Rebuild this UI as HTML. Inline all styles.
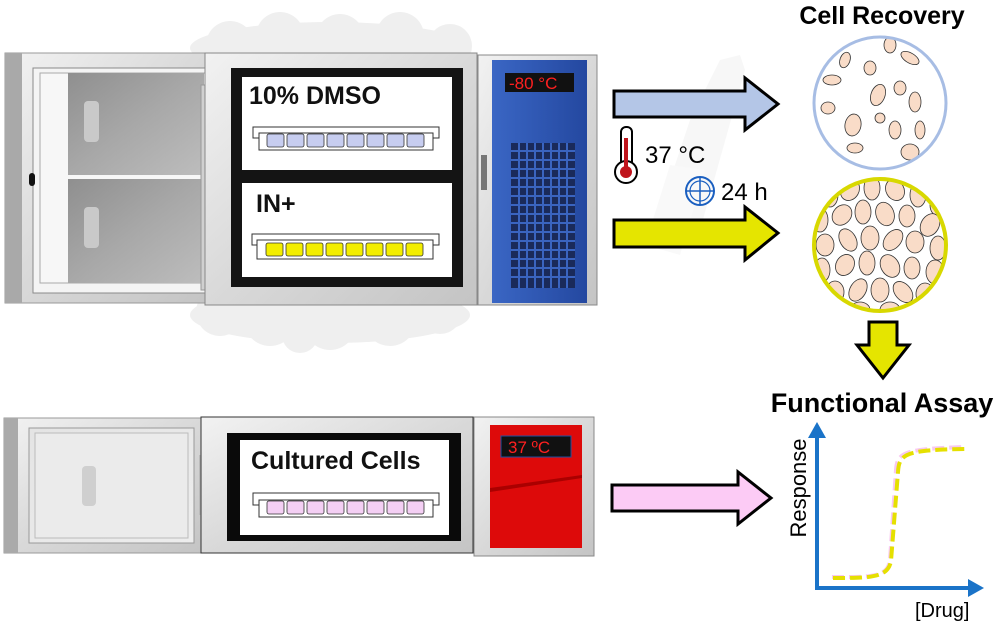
<!DOCTYPE html>
<html><head><meta charset="utf-8"><style>
html,body{margin:0;padding:0;background:#fff}
svg{display:block}
text{font-family:"Liberation Sans",sans-serif}
</style></head><body>
<svg width="1000" height="624" viewBox="0 0 1000 624" xmlns="http://www.w3.org/2000/svg">
<defs>
<linearGradient id="metal" x1="0" y1="0" x2="1" y2="1">
<stop offset="0" stop-color="#f2f2f2"/><stop offset="0.5" stop-color="#d9d9d9"/><stop offset="1" stop-color="#c4c4c4"/></linearGradient>
<linearGradient id="glass" x1="0" y1="0" x2="1" y2="1">
<stop offset="0" stop-color="#8f8f8f"/><stop offset="0.5" stop-color="#a8a8a8"/><stop offset="1" stop-color="#bdbdbd"/></linearGradient>
<linearGradient id="glass2" x1="0" y1="0" x2="1" y2="1">
<stop offset="0" stop-color="#e4e4e4"/><stop offset="1" stop-color="#ededed"/></linearGradient>
<linearGradient id="blue" x1="0" y1="0" x2="1" y2="0">
<stop offset="0" stop-color="#3a66c4"/><stop offset="1" stop-color="#2448a0"/></linearGradient>
<clipPath id="c1"><circle cx="880" cy="103" r="66"/></clipPath>
<clipPath id="c2"><circle cx="880" cy="245" r="66"/></clipPath>
</defs>

<!-- cloud -->
<g fill="#efefef">
<ellipse cx="330" cy="48" rx="140" ry="26"/>
<circle cx="230" cy="45" r="24"/><circle cx="280" cy="36" r="24"/><circle cx="340" cy="38" r="24"/><circle cx="400" cy="36" r="24"/><circle cx="450" cy="46" r="22"/>
<ellipse cx="330" cy="315" rx="140" ry="28"/>
<circle cx="220" cy="312" r="24"/><circle cx="270" cy="320" r="26"/><circle cx="330" cy="324" r="26"/><circle cx="390" cy="320" r="26"/><circle cx="440" cy="312" r="22"/><circle cx="300" cy="335" r="18"/>
</g>

<!-- TOP FREEZER -->
<rect x="5" y="53" width="202" height="250" fill="url(#metal)" stroke="#999"/>
<rect x="5" y="53" width="17" height="250" fill="#a9a9a9"/>
<rect x="33" y="68" width="172" height="225" fill="#f4f4f4" stroke="#8a8a8a"/>
<rect x="40" y="73" width="165" height="210" fill="#f7f7f7" stroke="#aaa"/>
<rect x="68" y="73" width="136" height="102" fill="url(#glass)"/>
<rect x="68" y="179" width="136" height="104" fill="url(#glass)"/>
<rect x="84" y="101" width="15" height="41" rx="4" fill="#c9c9c9"/>
<rect x="84" y="207" width="15" height="41" rx="4" fill="#c9c9c9"/>
<rect x="29" y="173" width="6" height="13" rx="3" fill="#111"/>
<rect x="201" y="85" width="8" height="205" fill="#d0d0d0" stroke="#999"/>
<rect x="205" y="53" width="272" height="252" fill="url(#metal)" stroke="#888"/>
<rect x="231" y="68" width="232" height="219" fill="#141414"/>
<rect x="242" y="77" width="210" height="93" fill="#fff"/>
<rect x="242" y="183" width="210" height="94" fill="#fff"/>
<text x="249" y="104" font-size="25" font-weight="bold" fill="#111">10% DMSO</text>
<text x="256" y="212" font-size="25" font-weight="bold" fill="#111">IN+</text>
<rect x="253" y="127" width="186" height="11" fill="#fff" stroke="#333"/>
<rect x="259" y="133" width="174" height="17" fill="#fff" stroke="#333"/>
<g fill="#c7cdf0" stroke="#333" stroke-width="0.8">
<rect x="267" y="134" width="17" height="13" rx="2"/><rect x="287" y="134" width="17" height="13" rx="2"/><rect x="307" y="134" width="17" height="13" rx="2"/><rect x="327" y="134" width="17" height="13" rx="2"/><rect x="347" y="134" width="17" height="13" rx="2"/><rect x="367" y="134" width="17" height="13" rx="2"/><rect x="387" y="134" width="17" height="13" rx="2"/><rect x="407" y="134" width="17" height="13" rx="2"/></g>
<rect x="252" y="234" width="187" height="11" fill="#fff" stroke="#333"/>
<rect x="257" y="240" width="176" height="19" fill="#fff" stroke="#333"/>
<g fill="#f3ee00" stroke="#333" stroke-width="0.8">
<rect x="266" y="243" width="17" height="13" rx="2"/><rect x="286" y="243" width="17" height="13" rx="2"/><rect x="306" y="243" width="17" height="13" rx="2"/><rect x="326" y="243" width="17" height="13" rx="2"/><rect x="346" y="243" width="17" height="13" rx="2"/><rect x="366" y="243" width="17" height="13" rx="2"/><rect x="386" y="243" width="17" height="13" rx="2"/><rect x="406" y="243" width="17" height="13" rx="2"/></g>
<rect x="478" y="55" width="119" height="250" fill="url(#metal)" stroke="#888"/>
<rect x="481" y="155" width="6" height="35" fill="#777"/>
<rect x="492" y="60" width="95" height="243" fill="url(#blue)"/>
<rect x="505" y="73" width="69" height="19" fill="#111"/>
<text x="509" y="89" font-size="17" fill="#ff2020">-80 °C</text>
<rect x="511" y="143" width="64" height="145" fill="#1a2a5a"/>
<g stroke="#3a64c0" stroke-width="2">
<line x1="519" y1="143" x2="519" y2="288"/><line x1="527" y1="143" x2="527" y2="288"/><line x1="535" y1="143" x2="535" y2="288"/><line x1="543" y1="143" x2="543" y2="288"/><line x1="551" y1="143" x2="551" y2="288"/><line x1="559" y1="143" x2="559" y2="288"/><line x1="567" y1="143" x2="567" y2="288"/>
<line x1="511" y1="151" x2="575" y2="151"/><line x1="511" y1="160" x2="575" y2="160"/><line x1="511" y1="169" x2="575" y2="169"/><line x1="511" y1="178" x2="575" y2="178"/><line x1="511" y1="187" x2="575" y2="187"/><line x1="511" y1="196" x2="575" y2="196"/><line x1="511" y1="205" x2="575" y2="205"/><line x1="511" y1="214" x2="575" y2="214"/><line x1="511" y1="223" x2="575" y2="223"/><line x1="511" y1="232" x2="575" y2="232"/><line x1="511" y1="241" x2="575" y2="241"/><line x1="511" y1="250" x2="575" y2="250"/><line x1="511" y1="259" x2="575" y2="259"/><line x1="511" y1="268" x2="575" y2="268"/><line x1="511" y1="277" x2="575" y2="277"/>
</g>

<!-- BOTTOM FREEZER -->
<rect x="4" y="418" width="198" height="135" fill="url(#metal)" stroke="#999"/>
<rect x="4" y="418" width="14" height="135" fill="#aaa"/>
<rect x="29" y="428" width="165" height="115" fill="url(#glass2)" stroke="#999"/>
<rect x="35" y="433" width="153" height="105" fill="#ebebeb" stroke="#bbb"/>
<rect x="82" y="466" width="14" height="40" rx="4" fill="#cfcfcf"/>
<rect x="199" y="455" width="6" height="60" fill="#bbb"/>
<rect x="201" y="417" width="272" height="136" fill="url(#metal)" stroke="#333"/>
<rect x="227" y="433" width="234" height="108" fill="#0a0a0a"/>
<rect x="240" y="440" width="209" height="95" fill="#fff"/>
<text x="251" y="469" font-size="25" font-weight="bold" fill="#111">Cultured Cells</text>
<rect x="253" y="493" width="186" height="12" fill="#fff" stroke="#333"/>
<rect x="259" y="500" width="174" height="17" fill="#fff" stroke="#333"/>
<g fill="#f4cff4" stroke="#333" stroke-width="0.8">
<rect x="267" y="501" width="17" height="13" rx="2"/><rect x="287" y="501" width="17" height="13" rx="2"/><rect x="307" y="501" width="17" height="13" rx="2"/><rect x="327" y="501" width="17" height="13" rx="2"/><rect x="347" y="501" width="17" height="13" rx="2"/><rect x="367" y="501" width="17" height="13" rx="2"/><rect x="387" y="501" width="17" height="13" rx="2"/><rect x="407" y="501" width="17" height="13" rx="2"/></g>
<rect x="474" y="417" width="120" height="139" fill="url(#metal)" stroke="#888"/>
<rect x="490" y="425" width="92" height="123" fill="#dd0a0a"/>
<polygon points="490,488 582,475 582,478 490,492" fill="#a00"/>
<rect x="501" y="436" width="70" height="21" fill="#111" stroke="#2050a0"/>
<text x="508" y="453" font-size="17" fill="#ff2020">37 ºC</text>

<!-- pipette ghost -->
<g opacity="0.15">
<polygon points="720,60 740,55 745,70 700,230 670,250 650,240 690,120" fill="#ccc"/>
<polygon points="670,165 705,170 680,255 645,245" fill="#ddd"/>
</g>

<!-- arrows -->
<polygon points="614,91 745,91 745,78 778,104 745,130 745,117 614,117" fill="#b4c6e7" stroke="#000" stroke-width="3"/>
<polygon points="614,220 745,220 745,207 778,233 745,260 745,247 614,247" fill="#e5e500" stroke="#000" stroke-width="3"/>
<polygon points="612,485 738,485 738,472 771,498 738,524 738,511 612,511" fill="#fccbf5" stroke="#000" stroke-width="3"/>
<polygon points="869,322 897,322 897,345 909,345 883,378 857,345 869,345" fill="#e5e500" stroke="#000" stroke-width="3"/>

<!-- thermometer -->
<rect x="621" y="127" width="11" height="40" rx="5" fill="#fff" stroke="#000" stroke-width="2"/>
<circle cx="626" cy="172" r="11" fill="#fff" stroke="#000" stroke-width="2"/>
<rect x="624" y="138" width="4" height="32" fill="#c0141c"/>
<circle cx="626" cy="172" r="6" fill="#c0141c"/>
<text x="645" y="163" font-size="24" fill="#000">37 °C</text>
<circle cx="700" cy="191" r="14" fill="none" stroke="#1a5fc0" stroke-width="2"/>
<circle cx="700" cy="191" r="10" fill="none" stroke="#1a5fc0" stroke-width="1.2"/>
<line x1="700" y1="177" x2="700" y2="205" stroke="#1a5fc0" stroke-width="1.5"/>
<line x1="686" y1="191" x2="714" y2="191" stroke="#1a5fc0" stroke-width="1.5"/>
<text x="721" y="200" font-size="24" fill="#000">24 h</text>

<!-- titles -->
<text x="882" y="24" font-size="25" font-weight="bold" fill="#000" text-anchor="middle">Cell Recovery</text>
<text x="882" y="412" font-size="27" font-weight="bold" fill="#000" text-anchor="middle">Functional Assay</text>

<!-- circles -->
<circle cx="880" cy="103" r="66" fill="#fff"/>
<g clip-path="url(#c1)" fill="#f9dcc8" stroke="#333" stroke-width="0.8">
<ellipse cx="890" cy="45" rx="6" ry="8"/><ellipse cx="845" cy="60" rx="5" ry="8" transform="rotate(20 845 60)"/><ellipse cx="910" cy="58" rx="10" ry="5" transform="rotate(30 910 58)"/>
<ellipse cx="870" cy="68" rx="6" ry="7"/><ellipse cx="832" cy="80" rx="9" ry="5"/><ellipse cx="900" cy="88" rx="6" ry="7"/>
<ellipse cx="878" cy="95" rx="7" ry="11" transform="rotate(20 878 95)"/><ellipse cx="915" cy="102" rx="6" ry="10"/><ellipse cx="828" cy="108" rx="7" ry="6"/>
<ellipse cx="853" cy="125" rx="8" ry="11" transform="rotate(10 853 125)"/><ellipse cx="895" cy="130" rx="6" ry="9"/><ellipse cx="920" cy="130" rx="5" ry="9"/>
<ellipse cx="855" cy="148" rx="8" ry="5"/><ellipse cx="910" cy="152" rx="9" ry="8"/><ellipse cx="880" cy="118" rx="5" ry="5"/>
</g>
<circle cx="880" cy="103" r="66" fill="none" stroke="#a7bde4" stroke-width="3"/>
<circle cx="880" cy="245" r="66" fill="#fff"/>
<g clip-path="url(#c2)" fill="#f9dcc8" stroke="#333" stroke-width="0.8">
<ellipse cx="830" cy="195" rx="8" ry="12"/><ellipse cx="850" cy="190" rx="9" ry="11" transform="rotate(30 850 190)"/><ellipse cx="872" cy="188" rx="8" ry="12"/><ellipse cx="895" cy="190" rx="9" ry="11" transform="rotate(-30 895 190)"/><ellipse cx="918" cy="195" rx="8" ry="12"/><ellipse cx="938" cy="205" rx="8" ry="11"/>
<ellipse cx="820" cy="220" rx="8" ry="12"/><ellipse cx="842" cy="215" rx="9" ry="11" transform="rotate(40 842 215)"/><ellipse cx="863" cy="212" rx="8" ry="12"/><ellipse cx="885" cy="214" rx="9" ry="12" transform="rotate(-20 885 214)"/><ellipse cx="907" cy="216" rx="8" ry="11"/><ellipse cx="930" cy="225" rx="9" ry="12" transform="rotate(30 930 225)"/>
<ellipse cx="825" cy="245" rx="9" ry="11"/><ellipse cx="848" cy="240" rx="8" ry="12" transform="rotate(-30 848 240)"/><ellipse cx="870" cy="238" rx="9" ry="12"/><ellipse cx="893" cy="240" rx="8" ry="12" transform="rotate(40 893 240)"/><ellipse cx="915" cy="242" rx="9" ry="11"/><ellipse cx="938" cy="248" rx="8" ry="12"/>
<ellipse cx="822" cy="270" rx="8" ry="12"/><ellipse cx="845" cy="265" rx="9" ry="11" transform="rotate(30 845 265)"/><ellipse cx="867" cy="263" rx="8" ry="12"/><ellipse cx="890" cy="266" rx="9" ry="12" transform="rotate(-30 890 266)"/><ellipse cx="912" cy="268" rx="8" ry="11"/><ellipse cx="935" cy="272" rx="9" ry="12"/>
<ellipse cx="835" cy="292" rx="9" ry="11"/><ellipse cx="858" cy="290" rx="8" ry="12" transform="rotate(30 858 290)"/><ellipse cx="880" cy="290" rx="9" ry="12"/><ellipse cx="903" cy="292" rx="8" ry="12" transform="rotate(-40 903 292)"/><ellipse cx="925" cy="294" rx="9" ry="11"/>
<ellipse cx="860" cy="310" rx="10" ry="8"/><ellipse cx="890" cy="310" rx="10" ry="8"/>
</g>
<circle cx="880" cy="245" r="66" fill="none" stroke="#d8d800" stroke-width="4"/>

<!-- graph -->
<line x1="817" y1="588" x2="817" y2="432" stroke="#1a73c8" stroke-width="4"/>
<polygon points="817,422 808,438 826,438" fill="#1a73c8"/>
<line x1="815" y1="588" x2="970" y2="588" stroke="#1a73c8" stroke-width="4"/>
<polygon points="984,588 968,579 968,597" fill="#1a73c8"/>
<text transform="translate(806 488) rotate(-90)" font-size="22" fill="#000" text-anchor="middle">Response</text>
<text x="915" y="617" font-size="20" fill="#000">[Drug]</text>
<path d="M832,577 C870,577 888,578 890,560 L896,470 C897,452 905,449 965,447" fill="none" stroke="#f8c8f0" stroke-width="4" stroke-dasharray="12,5"/>
<path d="M833,578 C870,578 888,578 891,561 L898,472 C899,453 907,450 965,449" fill="none" stroke="#e5e000" stroke-width="4" stroke-dasharray="12,5"/>
</svg>
</body></html>
